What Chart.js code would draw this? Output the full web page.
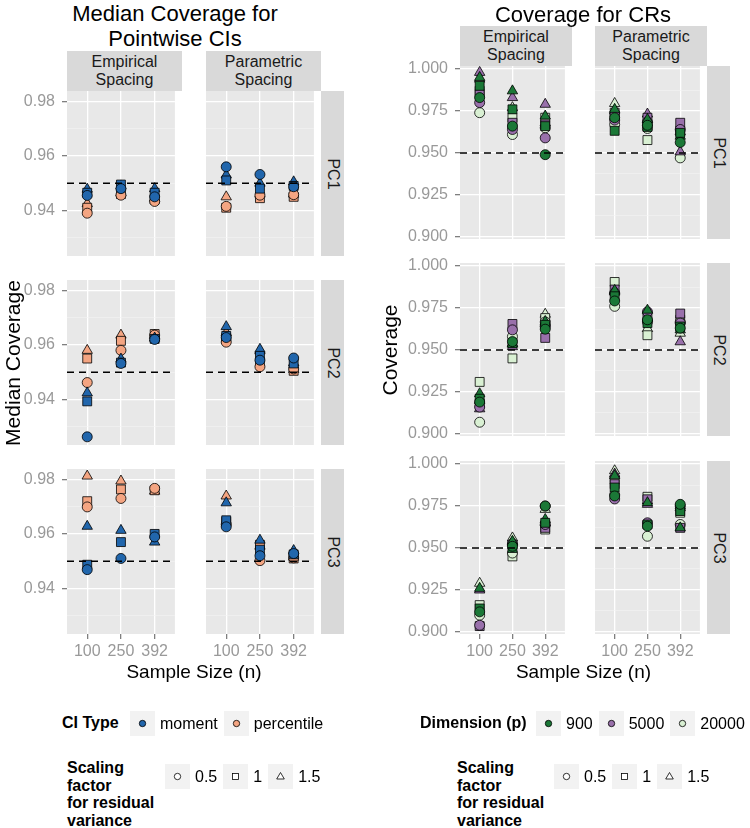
<!DOCTYPE html>
<html>
<head>
<meta charset="utf-8">
<script src="https://cdn.jsdelivr.net/npm/chart.js@4.4.1/dist/chart.umd.min.js"></script>
<style>
  body { margin: 0; background: #fff; font-family: "Liberation Sans", Arial, sans-serif; }
  #wrap { position: relative; width: 750px; height: 828px; overflow: hidden; }
  #wrap canvas { position: absolute; }
  .lbl { position: absolute; white-space: nowrap; color: #000; }
  .title { font-size: 22px; line-height: 25px; text-align: center; }
  .strip { position: absolute; background: #D9D9D9; font-size: 16px; line-height: 18px; color: #1a1a1a;
           display: flex; align-items: center; justify-content: center; text-align: center; }
  .rstrip { position: absolute; background: #D9D9D9; }
  .rstrip span { position: absolute; left: 50%; top: 50%; font-size: 16px; color: #1a1a1a; white-space: nowrap;
                 transform: translate(-50%, -50%) rotate(90deg); }
  .axtitle { font-size: 19px; }
  .ytitle { font-size: 21px; }
  .legtitle { font-size: 16px; font-weight: bold; line-height: 17.5px; }
  .legrow { position: absolute; display: flex; align-items: center; font-size: 16px; }
  .key { width: 25px; height: 25px; background: #F2F2F2; margin-right: 5px; }
  .key svg { display: block; }
  .legrow .txt { margin-right: 6px; }
</style>
</head>
<body>
<div id="wrap"></div>
<script>
// ---- data ----
var sampleSizes = ['100', '250', '392'];
var spacings = ['Empirical<br>Spacing', 'Parametric<br>Spacing'];
var pcs = ['PC1', 'PC2', 'PC3'];
var ciTypes = ['moment', 'percentile'];
var ciColors = ['#2166AC', '#F4A582'];
var dims = ['900', '5000', '20000'];
var dimColors = ['#1B7837', '#9970AB', '#D9F0D3'];
var scalings = ['0.5', '1', '1.5'];
var refLevel = 0.95;

// y ticks (major ones get labels, the rest are minor grid lines)
var pwTicks = [0.93, 0.94, 0.95, 0.96, 0.97, 0.98];
var pwMajor = [0.94, 0.96, 0.98];
var crTicks = [0.9, 0.9125, 0.925, 0.9375, 0.95, 0.9625, 0.975, 0.9875, 1.0];
var crMajor = [0.9, 0.925, 0.95, 0.975, 1.0];

// median coverage of pointwise CIs: [ciType][scaling][sample size]
var pw_PC1_emp = [
  [[0.9455, 0.948, 0.945], [0.9465, 0.9495, 0.9465], [0.9478, 0.949, 0.948]],
  [[0.939, 0.9456, 0.9433], [0.941, 0.946, 0.944], [0.9425, 0.9465, 0.9445]]
];
var pw_PC1_par = [
  [[0.956, 0.9532, 0.9487], [0.951, 0.948, 0.949], [0.953, 0.950, 0.9505]],
  [[0.9415, 0.9456, 0.9458], [0.941, 0.9445, 0.945], [0.945, 0.946, 0.946]]
];
var pw_PC2_emp = [
  [[0.9263, 0.9532, 0.962], [0.9393, 0.9535, 0.9622], [0.9424, 0.9548, 0.9625]],
  [[0.9462, 0.958, 0.9636], [0.955, 0.9615, 0.964], [0.958, 0.9636, 0.9635]]
];
var pw_PC2_par = [
  [[0.9627, 0.9544, 0.9552], [0.9633, 0.956, 0.9532], [0.9667, 0.9584, 0.9535]],
  [[0.961, 0.952, 0.9512], [0.9625, 0.9535, 0.9505], [0.9645, 0.9578, 0.951]]
];
var pw_PC3_emp = [
  [[0.9469, 0.951, 0.9589], [0.9487, 0.957, 0.960], [0.9628, 0.9613, 0.957]],
  [[0.9699, 0.973, 0.9767], [0.972, 0.9763, 0.976], [0.9812, 0.9794, 0.9757]]
];
var pw_PC3_par = [
  [[0.9626, 0.952, 0.9528], [0.965, 0.9542, 0.9525], [0.9714, 0.9577, 0.9539]],
  [[0.9635, 0.9502, 0.9512], [0.9645, 0.956, 0.951], [0.9739, 0.9555, 0.9515]]
];

// coverage of CRs: [dimension][scaling][sample size]
var cr_PC1_emp = [
  [[0.983, 0.966, 0.949], [0.990, 0.976, 0.966], [0.995, 0.987, 0.972]],
  [[0.980, 0.964, 0.959], [0.985, 0.968, 0.967], [0.998, 0.983, 0.979]],
  [[0.974, 0.961, 0.965], [0.987, 0.971, 0.971], [0.994, 0.977, 0.968]]
];
var cr_PC1_par = [
  [[0.971, 0.9665, 0.9563], [0.9632, 0.9655, 0.962], [0.976, 0.970, 0.960]],
  [[0.9696, 0.9685, 0.964], [0.972, 0.971, 0.968], [0.975, 0.9732, 0.9507]],
  [[0.967, 0.9646, 0.9471], [0.974, 0.9577, 0.963], [0.9795, 0.968, 0.9626]]
];
var cr_PC2_emp = [
  [[0.919, 0.955, 0.9624], [0.921, 0.954, 0.965], [0.924, 0.9535, 0.967]],
  [[0.916, 0.962, 0.964], [0.918, 0.9655, 0.9572], [0.915, 0.952, 0.966]],
  [[0.907, 0.958, 0.9667], [0.931, 0.945, 0.969], [0.920, 0.954, 0.9713]]
];
var cr_PC2_par = [
  [[0.9792, 0.968, 0.963], [0.982, 0.966, 0.964], [0.9855, 0.9737, 0.962]],
  [[0.984, 0.9727, 0.966], [0.986, 0.970, 0.9717], [0.985, 0.969, 0.9549]],
  [[0.976, 0.9667, 0.9667], [0.9905, 0.9588, 0.968], [0.9845, 0.9628, 0.960]]
];
var cr_PC3_emp = [
  [[0.912, 0.951, 0.975], [0.914, 0.950, 0.965], [0.926, 0.954, 0.967]],
  [[0.904, 0.9525, 0.964], [0.9035, 0.952, 0.962], [0.925, 0.9535, 0.965]],
  [[0.910, 0.947, 0.975], [0.916, 0.945, 0.961], [0.929, 0.956, 0.973]]
];
var cr_PC3_par = [
  [[0.981, 0.963, 0.976], [0.986, 0.964, 0.972], [0.993, 0.977, 0.962]],
  [[0.9792, 0.965, 0.975], [0.988, 0.979, 0.962], [0.994, 0.976, 0.975]],
  [[0.9817, 0.957, 0.964], [0.9907, 0.9805, 0.971], [0.996, 0.978, 0.974]]
];

// ---- layout ----
var FONT = '"Liberation Sans", Arial, sans-serif';
var wrap = document.getElementById('wrap');
var L = 60, B = 34, T = 12;
var xMin = 0.4, xMax = 3.6;
var shapes = ['circle', 'rect', 'triangle'];
var radii = [5, 6.3, 6];

var leftPlot = {
  cols: [67, 206], w: 115, rows: [91, 280, 469], h: 165,
  ymin: 0.9233, ymax: 0.9838, ticks: pwTicks, major: pwMajor, dec: 2,
  colors: ciColors,
  facets: [[pw_PC1_emp, pw_PC1_par], [pw_PC2_emp, pw_PC2_par], [pw_PC3_emp, pw_PC3_par]]
};
var rightPlot = {
  cols: [460, 595], w: 112, rows: [66, 263, 461], h: 173,
  ymin: 0.8988, ymax: 1.0018, ticks: crTicks, major: crMajor, dec: 3,
  colors: dimColors,
  facets: [[cr_PC1_emp, cr_PC1_par], [cr_PC2_emp, cr_PC2_par], [cr_PC3_emp, cr_PC3_par]]
};

var panelBg = {
  id: 'panelBg',
  beforeDraw: function(chart) {
    var a = chart.chartArea, ctx = chart.ctx;
    ctx.save();
    ctx.fillStyle = '#E8E8E8';
    ctx.fillRect(a.left, a.top, a.right - a.left, a.bottom - a.top);
    ctx.restore();
  }
};

function isMajor(p, v) {
  return p.major.some(function(m) { return Math.abs(m - v) < 1e-9; });
}

function makeFacet(p, r, c) {
  var values = p.facets[r][c];
  var firstCol = c === 0, lastRow = r === p.rows.length - 1;
  var w = p.w + L, h = p.h + T + B;
  var cv = document.createElement('canvas');
  cv.width = w; cv.height = h;
  cv.style.left = (p.cols[c] - L) + 'px';
  cv.style.top = (p.rows[r] - T) + 'px';
  cv.style.width = w + 'px'; cv.style.height = h + 'px';
  wrap.appendChild(cv);

  // dashed reference line first so it is drawn on top
  var datasets = [{
    data: [{x: xMin, y: refLevel}, {x: xMax, y: refLevel}],
    showLine: true, borderColor: '#000', borderWidth: 1.4, borderDash: [7, 5], pointRadius: 0
  }];
  values.forEach(function(grp, g) {
    grp.forEach(function(vals, s) {
      datasets.push({
        data: vals.map(function(v, i) { return {x: i + 1, y: v}; }),
        backgroundColor: p.colors[g], borderColor: '#000', borderWidth: 0.8,
        pointStyle: shapes[s], pointRadius: radii[s]
      });
    });
  });

  new Chart(cv, {
    type: 'scatter',
    data: {datasets: datasets},
    plugins: [panelBg],
    options: {
      responsive: false, animation: false, devicePixelRatio: 1,
      layout: {padding: {top: T, left: 0, right: 0, bottom: 0}},
      plugins: {legend: {display: false}, tooltip: {enabled: false}},
      scales: {
        x: {
          type: 'linear', min: xMin, max: xMax,
          afterBuildTicks: function(s) { s.ticks = sampleSizes.map(function(_, i) { return {value: i + 1}; }); },
          afterFit: function(s) { s.height = B; s.paddingLeft = 0; s.paddingRight = 0; },
          border: {display: false},
          grid: {color: '#fff', lineWidth: 1.3, drawTicks: lastRow, tickLength: 5, tickColor: '#7f7f7f'},
          ticks: {
            display: lastRow, autoSkip: false, maxRotation: 0, padding: 3,
            color: '#999', font: {size: 16, family: FONT},
            callback: function(v) { return sampleSizes[v - 1]; }
          }
        },
        y: {
          type: 'linear', min: p.ymin, max: p.ymax,
          afterBuildTicks: function(s) { s.ticks = p.ticks.map(function(v) { return {value: v}; }); },
          afterFit: function(s) { s.width = L; s.paddingTop = 0; s.paddingBottom = 0; },
          border: {display: false},
          grid: {
            drawTicks: firstCol, tickLength: 5,
            color: function(ctx) { return ctx.tick && isMajor(p, ctx.tick.value) ? '#fff' : '#F3F3F3'; },
            lineWidth: function(ctx) { return ctx.tick && isMajor(p, ctx.tick.value) ? 1.3 : 0.6; },
            tickColor: function(ctx) { return ctx.tick && isMajor(p, ctx.tick.value) ? '#7f7f7f' : 'rgba(0,0,0,0)'; }
          },
          ticks: {
            display: firstCol, padding: 7, color: '#999', font: {size: 16, family: FONT},
            callback: function(v) { return isMajor(p, v) ? v.toFixed(p.dec) : ''; }
          }
        }
      }
    }
  });
}

function addText(cls, html, css) {
  var d = document.createElement('div');
  d.className = cls;
  d.innerHTML = html;
  d.style.cssText += css;
  wrap.appendChild(d);
  return d;
}

function drawPlot(p, stripTop, stripH, titleHtml, titleCx, titleTop, yTitle, yTitleCx) {
  var i, j;
  for (i = 0; i < p.rows.length; i++) {
    for (j = 0; j < p.cols.length; j++) makeFacet(p, i, j);
  }
  var right = p.cols[1] + p.w;
  // column strips
  for (j = 0; j < p.cols.length; j++) {
    addText('strip', spacings[j], 'left:' + p.cols[j] + 'px;top:' + stripTop + 'px;width:' + p.w + 'px;height:' + stripH + 'px;');
  }
  // row strips
  for (i = 0; i < p.rows.length; i++) {
    addText('rstrip', '<span>' + pcs[i] + '</span>', 'left:' + right + 'px;top:' + p.rows[i] + 'px;width:23px;height:' + p.h + 'px;');
  }
  addText('lbl title', titleHtml, 'left:' + (titleCx - 150) + 'px;top:' + titleTop + 'px;width:300px;');
  var axisCx = (p.cols[0] + right) / 2;
  addText('lbl axtitle', 'Sample Size (n)', 'left:' + (axisCx - 100) + 'px;top:661px;width:200px;text-align:center;');
  var yc = (p.rows[0] + p.rows[2] + p.h) / 2;
  addText('lbl ytitle', yTitle, 'left:' + (yTitleCx - 110) + 'px;top:' + (yc - 12) + 'px;width:220px;text-align:center;transform:rotate(-90deg);');
}

drawPlot(leftPlot, 51, 40, 'Median Coverage for<br>Pointwise CIs', 175, 1, 'Median Coverage', 13);
drawPlot(rightPlot, 26, 40, 'Coverage for CRs', 583, 2, 'Coverage', 390);

// ---- legends ----
function keySvg(shape, fill) {
  var s = '<svg width="25" height="25" viewBox="0 0 25 25">';
  if (shape === 'circle') s += '<circle cx="12.5" cy="12.5" r="3.2" fill="' + fill + '" stroke="#000" stroke-width="0.8"/>';
  if (shape === 'rect') s += '<rect x="9.5" y="9.5" width="6" height="6" fill="' + fill + '" stroke="#000" stroke-width="0.8"/>';
  if (shape === 'triangle') s += '<polygon points="12.5,8.5 16.3,15 8.7,15" fill="' + fill + '" stroke="#000" stroke-width="0.8"/>';
  return s + '</svg>';
}

function legendRow(left, top, labels, keys) {
  var html = '';
  labels.forEach(function(lab, i) {
    html += '<div class="key">' + keys[i] + '</div><div class="txt">' + lab + '</div>';
  });
  addText('legrow', html, 'left:' + left + 'px;top:' + top + 'px;');
}

addText('lbl legtitle', 'CI Type', 'left:62px;top:714px;');
legendRow(130, 711, ciTypes, ciColors.map(function(c) { return keySvg('circle', c); }));
addText('lbl legtitle', 'Dimension (p)', 'left:420px;top:714px;');
legendRow(536, 711, dims, dimColors.map(function(c) { return keySvg('circle', c); }));

addText('lbl legtitle', 'Scaling<br>factor<br>for residual<br>variance', 'left:67px;top:759px;');
legendRow(165, 764, scalings, shapes.map(function(s) { return keySvg(s, '#fff'); }));
addText('lbl legtitle', 'Scaling<br>factor<br>for residual<br>variance', 'left:457px;top:759px;');
legendRow(554, 764, scalings, shapes.map(function(s) { return keySvg(s, '#fff'); }));
</script>
</body>
</html>
